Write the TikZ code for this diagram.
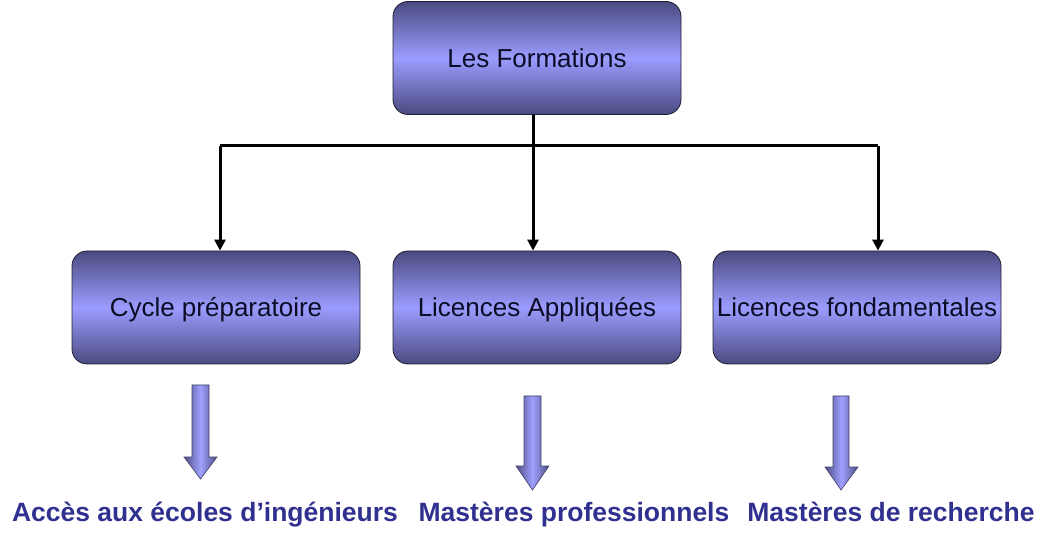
\documentclass[tikz,border=0pt]{standalone}
\usepackage{fontspec}
\setmainfont{Liberation Sans}
\usepackage{tikz}
\usetikzlibrary{arrows.meta}
\definecolor{boxdark}{RGB}{74,74,128}
\definecolor{boxlight}{RGB}{156,156,255}
\definecolor{boxedge}{RGB}{30,30,50}
\definecolor{boxtext}{RGB}{12,12,36}
\definecolor{arrowdark}{RGB}{78,78,132}
\definecolor{arrowlight}{RGB}{160,160,255}
\definecolor{debouchetext}{RGB}{48,48,144}
\tikzset{
  formation/.style={draw=boxedge,line width=0.8pt,rounded corners=15pt,
    minimum width=288pt,minimum height=113pt,inner sep=1pt,
    text height=19pt,text depth=0pt,
    top color=boxdark,bottom color=boxdark,middle color=boxlight,
    text=boxtext,font=\fontsize{26}{30}\selectfont},
  line/.style={line width=3pt,black},
  link/.style={line,-{Triangle[length=11pt,width=11pt]}},
  blockarrow/.style={draw=arrowdark!80!black,line width=0.6pt,
    left color=arrowdark,right color=arrowdark,middle color=arrowlight},
  debouche/.style={anchor=base,text=debouchetext,inner sep=0pt,
    font=\fontsize{26.5}{30}\selectfont\bfseries}
}
\begin{document}
\begin{tikzpicture}[x=1pt,y=-1pt]
	\useasboundingbox (0,0) rectangle (1045,537);
	\node[formation] (formations) at (537,58) {Les Formations};
	\node[formation] (cycle) at (216,307.5) {Cycle préparatoire};
	\node[formation] (appliquees) at (537,307.5) {Licences Appliquées};
	\node[formation] (fondamentales) at (857,307.5) {Licences fondamentales};
	\coordinate (splitl) at (220,146);
	\coordinate (splitm) at (533,146);
	\coordinate (splitr) at (878,146);
	\draw[link] (splitm |- formations.south) -- (splitm |- appliquees.north);
	\draw[line] (splitl) -- (splitr);
	\draw[link] (splitl) -- (splitl |- cycle.north);
	\draw[link] (splitr) -- (splitr |- fondamentales.north);
	\shade[blockarrow] (192,385) -- (209,385) -- (209,457) -- (217,457) -- (200.5,479) -- (184,457) -- (192,457) -- cycle;
	\shade[blockarrow] (524,396) -- (541,396) -- (541,466) -- (549,466) -- (532.5,490) -- (516,466) -- (524,466) -- cycle;
	\shade[blockarrow] (833,396) -- (849,396) -- (849,467) -- (858,467) -- (841,490) -- (825,467) -- (833,467) -- cycle;
	\node[debouche] (ecoles) at (205,521) {Accès aux écoles d’ingénieurs};
	\node[debouche] (professionnels) at (574,521.5) {Mastères professionnels};
	\node[debouche] (recherche) at (891,521.5) {Mastères de recherche};
\end{tikzpicture}
\end{document}
